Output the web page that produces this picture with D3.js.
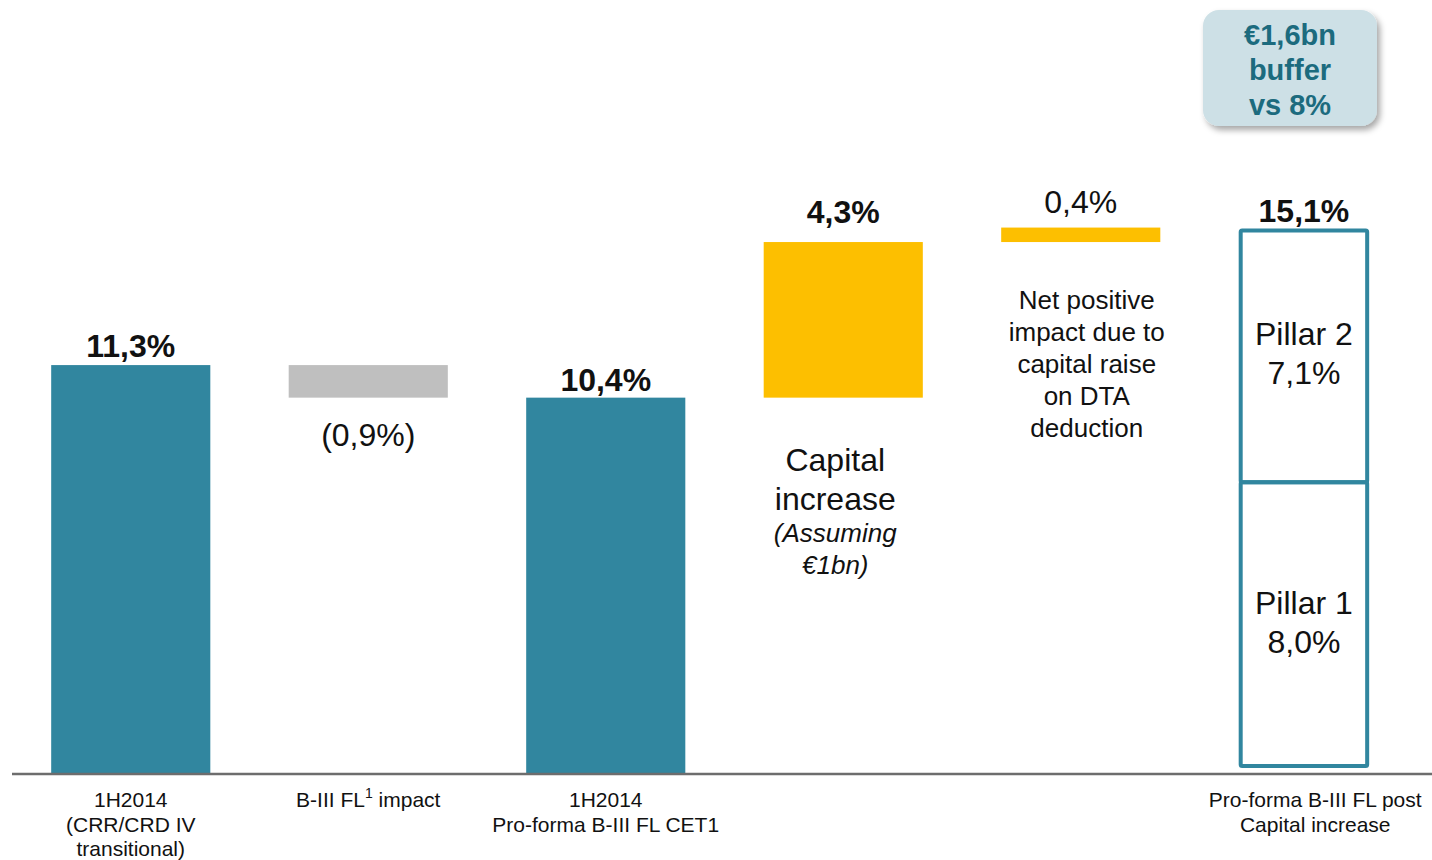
<!DOCTYPE html>
<html><head><meta charset="utf-8">
<script src="https://cdn.jsdelivr.net/npm/d3@7"></script>
<style>body{margin:0;background:#fff;font-family:"Liberation Sans",Arial,sans-serif;}</style>
</head><body>
<svg id="c" width="1432" height="860"></svg>
<script>
const categories = ["start","impact","proforma","capital","dta","final"];
const categoryLabels = [
  ["1H2014","(CRR/CRD IV","transitional)"],
  ["B-III FL¹ impact"],
  ["1H2014","Pro-forma B-III FL CET1"],
  [],
  [],
  ["Pro-forma B-III FL post","Capital increase"]
];
const barStart = [0, 11.3, 0, 10.4, 14.7, 0];
const barEnd   = [11.3, 10.4, 10.4, 14.7, 15.1, 15.1];
const valueLabels = ["11,3%","(0,9%)","10,4%","4,3%","0,4%","15,1%"];
const pillarValues = [8.0, 7.1];
const pillarLabels = [["Pillar 1","8,0%"],["Pillar 2","7,1%"]];

const svg = d3.select("#c");
const teal = "#31869f", yellow = "#fdbf00", grey = "#bfbfbf";
const x = d3.scaleBand().domain(categories).range([12,1437]).paddingInner(0.33).paddingOuter(0.165);
const y = d3.scaleLinear().domain([0,16]).range([774,195]);
const fills = [teal, grey, teal, yellow, yellow, "none"];

// bars (all but final)
categories.slice(0,5).forEach((c,i)=>{
  svg.append("rect").attr("x",x(c)).attr("width",x.bandwidth())
    .attr("y",y(Math.max(barStart[i],barEnd[i])))
    .attr("height",Math.abs(y(barStart[i])-y(barEnd[i])))
    .attr("fill",fills[i]);
});

// final outlined stacked bar (outline drawn slightly inside the value range)
const fw = x.bandwidth()*0.82;
const fx = x("final");
const total = pillarValues[0]+pillarValues[1];
const yIn = d3.scaleLinear().domain([0,total]).range([y(0)-8, y(total)+3]);
const cumul = [0, pillarValues[0], total];
pillarValues.forEach((v,i)=>{
  const top = yIn(cumul[i+1]), bot = yIn(cumul[i]);
  svg.append("rect").attr("x",fx+2).attr("width",fw-4)
    .attr("y",top).attr("height",bot-top)
    .attr("fill","none").attr("stroke",teal).attr("stroke-width",4).attr("rx",1.5);
  const mid = (top+bot)/2;
  const t = svg.append("text").attr("text-anchor","middle").attr("font-size",32).attr("fill","#111");
  pillarLabels[i].forEach((s,k)=>t.append("tspan").attr("x",fx+fw/2).attr("y",mid+(i===0?-10:-11)+(k===0?0:39)).text(s));
});

// axis line
svg.append("line").attr("x1",12).attr("x2",1432).attr("y1",y(0)).attr("y2",y(0))
  .attr("stroke","#6d6d6d").attr("stroke-width",2.5);

// value labels
const vl = [
  {i:0, y:y(11.3)-8, bold:true},
  {i:1, y:y(10.4)+48, bold:false},
  {i:2, y:y(10.4)-7, bold:true},
  {i:3, y:y(14.7)-19, bold:true},
  {i:4, y:y(15.1)-15, bold:false},
  {i:5, y:y(15.1)-6, bold:true}
];
vl.forEach(d=>{
  const cx = d.i===5 ? fx+fw/2 : x(categories[d.i])+x.bandwidth()/2;
  svg.append("text").attr("x",cx).attr("y",d.y).attr("text-anchor","middle")
    .attr("font-size",32).attr("font-weight",d.bold?"bold":"normal").attr("fill","#111").text(valueLabels[d.i]);
});

// annotation texts
const capX = x("capital")+x.bandwidth()/2-8;
const capT = svg.append("text").attr("text-anchor","middle").attr("fill","#111");
capT.append("tspan").attr("x",capX).attr("y",471).attr("font-size",32).text("Capital");
capT.append("tspan").attr("x",capX).attr("y",510).attr("font-size",32).text("increase");
capT.append("tspan").attr("x",capX).attr("y",542).attr("font-size",26).attr("font-style","italic").text("(Assuming");
capT.append("tspan").attr("x",capX).attr("y",574).attr("font-size",26).attr("font-style","italic").text("€1bn)");

const dtaX = x("dta")+x.bandwidth()/2+6;
const dtaLines = ["Net positive","impact due to","capital raise","on DTA","deduction"];
const dtaT = svg.append("text").attr("text-anchor","middle").attr("font-size",26).attr("fill","#111");
dtaLines.forEach((s,k)=>dtaT.append("tspan").attr("x",dtaX).attr("y",309+k*32).text(s));

// category labels
categories.forEach((c,i)=>{
  const cx = i===5 ? x(c)+x.bandwidth()/2-3 : x(c)+x.bandwidth()/2;
  const t = svg.append("text").attr("text-anchor","middle").attr("font-size",21).attr("fill","#111");
  categoryLabels[i].forEach((s,k)=>{
    const ts = t.append("tspan").attr("x",cx).attr("y",807+k*24.5);
    if (s.includes("¹")) {
      const parts = s.split("¹");
      ts.text(parts[0]);
      t.append("tspan").attr("dy",-9).attr("font-size",14).text("1");
      t.append("tspan").attr("dy",9).text("  "+parts[1].trim());
    } else ts.text(s);
  });
});

// buffer box
const defs = svg.append("defs");
const f = defs.append("filter").attr("id","sh").attr("x","-20%").attr("y","-20%").attr("width","150%").attr("height","150%");
f.append("feDropShadow").attr("dx",3).attr("dy",4).attr("stdDeviation",3).attr("flood-color","#000").attr("flood-opacity",0.35);
svg.append("rect").attr("x",1203).attr("y",10).attr("width",174).attr("height",116).attr("rx",16)
  .attr("fill","#cde0e6").attr("filter","url(#sh)");
const bt = svg.append("text").attr("text-anchor","middle").attr("font-size",29).attr("font-weight","bold").attr("fill","#1c6b7e");
["€1,6bn","buffer","vs 8%"].forEach((s,k)=>bt.append("tspan").attr("x",1290).attr("y",45+k*35).text(s));
</script>
</body></html>
